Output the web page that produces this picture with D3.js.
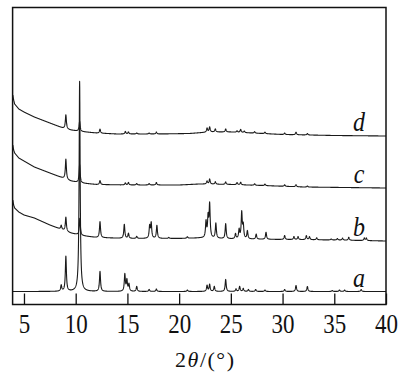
<!DOCTYPE html>
<html>
<head>
<meta charset="utf-8">
<script src="https://cdn.jsdelivr.net/npm/d3@7"></script>
<style>
    body { margin: 0; background: #fff; }
    svg { display: block; }
    text { font-family: "Liberation Serif", "Times New Roman", Times, "Nimbus Roman", "DejaVu Serif", serif; }
</style>
</head>
<body>
<svg id="chart" width="406" height="376"></svg>
<script>
// x axis ticks (2 theta, degrees)
var xTicks = [5, 10, 15, 20, 25, 30, 35, 40];
var traceNames = ["a", "b", "c", "d"];

// background of each pattern: [2theta, intensity (a.u.)]
var bgA = [[3.92, 13], [40, 13]];
var bgB = [[3.92, 104.5], [4.0, 99.5], [4.1, 96.5], [4.5, 92.5], [5.0, 89.5], [6.0, 86.5], [7.5, 79.5],
    [8.75, 74.5], [9.5, 71.5], [10.5, 69], [12, 67], [15, 66], [20, 66], [22, 66.5], [25, 65.5],
    [30, 65], [35, 64.5], [40, 63.5]];
var bgC = [[3.92, 159.5], [4.0, 154.5], [4.1, 151.5], [4.5, 146.5], [5.0, 143.5], [6.0, 137.5], [7.5, 131.5],
    [8.75, 126.5], [9.5, 123.5], [10.5, 121.5], [12, 120], [15, 119.5], [20, 119.5], [22, 120.5], [25, 120],
    [28, 119], [32, 117.5], [40, 116.5]];
var bgD = [[3.92, 209.5], [4.0, 204.5], [4.1, 200.5], [4.5, 195.5], [5.0, 192.5], [6.0, 187.5], [7.5, 181.5],
    [8.75, 176.5], [9.5, 174.5], [10.5, 173], [12, 171.5], [14, 170.5], [18, 170.5], [21, 171], [23, 172.5],
    [25, 172.5], [27, 171.5], [30, 170], [35, 169], [40, 168.5]];

// diffraction peaks: [2theta, height above background (a.u.)]
var peaksA = [[8.6, 6], [9.05, 35], [10.38, 210], [12.35, 20], [14.75, 17], [14.95, 11], [15.15, 7],
    [15.9, 5], [17.1, 2], [17.8, 2.5], [20.8, 1.5], [22.7, 6], [22.95, 7], [23.4, 5], [24.5, 12],
    [25.5, 2.5], [25.85, 5], [26.2, 3], [26.7, 2], [27.4, 2], [28.3, 1.5], [30.2, 2], [31.3, 6],
    [32.4, 5], [34.8, 1], [35.5, 1.5], [36.0, 1.5], [37.6, 2]];
var peaksB = [[8.6, 4], [9.05, 14], [10.4, 17], [12.35, 16], [14.7, 14], [15.1, 5], [15.9, 2],
    [17.15, 12], [17.3, 15], [17.85, 13], [19.0, 1], [20.8, 1.5], [22.6, 16], [22.8, 20], [22.95, 33],
    [23.55, 15], [24.5, 15], [25.45, 5], [25.8, 9], [26.05, 26], [26.2, 13], [26.6, 8], [27.45, 5],
    [28.4, 7], [30.2, 4], [31.1, 3], [31.5, 3], [32.3, 4], [32.6, 3], [33.3, 2], [34.7, 1],
    [35.3, 1.5], [35.8, 2], [36.4, 3], [37.9, 2.5], [38.1, 2.5]];
var peaksC = [[9.05, 20], [10.38, 18], [12.35, 4], [14.8, 2], [15.1, 2.5], [15.9, 1.5], [17.1, 1.5],
    [17.8, 2.5], [22.7, 3], [22.95, 5], [23.5, 2.5], [24.5, 2.5], [25.6, 2], [25.95, 2.5], [27.3, 1.5],
    [28.3, 1.5], [30.2, 1.5], [31.3, 2], [32.4, 1]];
var peaksD = [[9.05, 14], [10.38, 10], [12.35, 4], [14.8, 2.5], [15.1, 2], [15.9, 1], [17.1, 1],
    [17.8, 2], [22.7, 4], [22.95, 5], [23.5, 3], [24.5, 3], [25.6, 1.5], [25.95, 3], [26.3, 1.5],
    [27.3, 1.5], [28.3, 1.5], [30.2, 1.5], [31.3, 2.5], [32.4, 1.5]];

(function() {
    var svg = d3.select("#chart");
    var left = 12.6, right = 386, top = 7.5, bottom = 304.5;
    var hw = 0.06; // peak half width, degrees

    var x = d3.scaleLinear().domain([3.9, 40]).range([left, right]);
    var y = d3.scaleLinear().domain([0, 297]).range([bottom, top]);

    var traces = [
        { name: "a", bg: bgA, peaks: peaksA },
        { name: "b", bg: bgB, peaks: peaksB },
        { name: "c", bg: bgC, peaks: peaksC },
        { name: "d", bg: bgD, peaks: peaksD }
    ];

    // background between read points, peaks as narrow lorentzians
    traces.forEach(function(t) {
        var bgScale = d3.scaleLinear()
            .domain(t.bg.map(function(p) { return p[0]; }))
            .range(t.bg.map(function(p) { return p[1]; }));
        t.bgScale = bgScale;
        t.points = d3.range(3.92, 40.0001, 0.01).map(function(tt) {
            var v = bgScale(tt);
            t.peaks.forEach(function(p) {
                var u = (tt - p[0]) / hw;
                v += p[1] / (1 + u * u);
            });
            return [tt, v];
        });
    });

    var line = d3.line()
        .x(function(d) { return x(d[0]); })
        .y(function(d) { return y(d[1]); });

    svg.append("g")
        .selectAll("path")
        .data(traces)
        .enter().append("path")
        .attr("d", function(d) { return line(d.points); })
        .attr("fill", "none")
        .attr("stroke", "#1a1a1a")
        .attr("stroke-width", 1.1)
        .attr("stroke-linejoin", "round");

    // trace labels
    svg.append("g")
        .selectAll("text")
        .data(traces)
        .enter().append("text")
        .attr("transform", function(d) {
            return "translate(" + x(37.4) + "," + (y(d.bgScale(40)) - 5) + ") scale(1,1.1)";
        })
        .attr("text-anchor", "middle")
        .style("font-style", "italic")
        .style("font-size", "24px")
        .attr("fill", "#111")
        .text(function(d) { return d.name; });

    // bottom axis, ticks pointing in
    var axis = svg.append("g")
        .attr("transform", "translate(0," + bottom + ")")
        .call(d3.axisBottom(x).tickValues(xTicks).tickSizeInner(-11).tickSizeOuter(0));
    axis.select(".domain").remove();
    axis.attr("font-family", null).attr("font-size", null);
    axis.selectAll(".tick line").attr("stroke", "#111").attr("stroke-width", 1.3);
    axis.selectAll(".tick text")
        .attr("y", 0)
        .attr("dy", null)
        .attr("transform", "translate(0,28.5) scale(1,1.18)")
        .attr("fill", "#111")
        .style("font-size", "23px");

    // frame
    svg.append("rect")
        .attr("x", left)
        .attr("y", top)
        .attr("width", right - left)
        .attr("height", bottom - top)
        .attr("fill", "none")
        .attr("stroke", "#111")
        .attr("stroke-width", 1.5);

    var title = svg.append("text")
        .attr("x", (left + right) / 2 + 6)
        .attr("y", 367)
        .attr("text-anchor", "middle")
        .attr("fill", "#111")
        .style("font-size", "22px")
        .style("letter-spacing", "1.5px");
    title.append("tspan").text("2");
    title.append("tspan").style("font-style", "italic").text("θ");
    title.append("tspan").text("/(°)");
})();
</script>
</body>
</html>
